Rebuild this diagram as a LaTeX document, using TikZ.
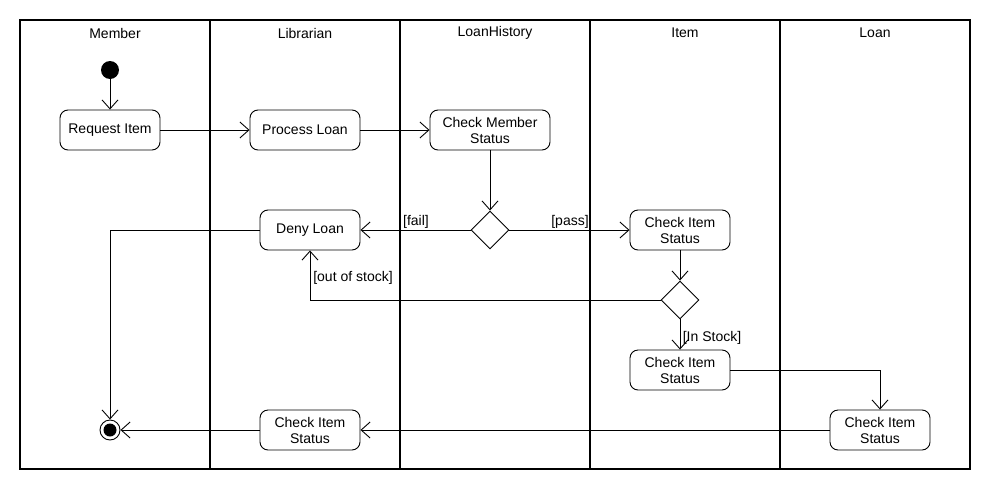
\documentclass[tikz,border=0pt]{standalone}
\usepackage{fontspec}
\setmainfont{Liberation Sans}
\usetikzlibrary{arrows.meta,shapes.geometric}
\begin{document}
\begin{tikzpicture}[x=1pt,y=-1pt,
  txt/.style={font=\fontsize{14}{16}\selectfont},
  act/.style={txt,draw,rounded corners=8pt,minimum width=100pt,minimum height=40pt,inner sep=0pt,align=center,line width=0.9pt},
  dec/.style={draw,diamond,minimum width=38pt,minimum height=38pt,inner sep=0pt,line width=0.9pt},
  flow/.style={line width=0.9pt,-{Straight Barb[length=9pt,width=16pt,line width=0.9pt]}},
  lane/.style={line width=2pt},
  frame/.style={line width=1.3pt}]
\useasboundingbox (0,0) rectangle (990,490);
\draw[frame] (20,20) rectangle (970,469);
\foreach \x in {210,400,590,780} \draw[lane] (\x,20) -- (\x,469);
\node[txt] (hmember) at (115,33) {Member};
\node[txt] (hlib) at (305,33) {Librarian};
\node[txt] (hhist) at (495,33) {LoanHistory};
\node[txt] (hitem) at (685,33) {Item};
\node[txt] (hloan) at (875,33) {Loan};

\node[circle,fill=black,minimum size=18pt,inner sep=0pt] (start) at (110,70) {};
\node[act] (req) at (110,130) {Request Item};
\node[act,minimum width=110pt] (proc) at (305,130) {Process Loan};
\node[act,minimum width=120pt] (cms) at (490,130) {Check Member\\Status};
\node[dec] (d1) at (490,230) {};
\node[act] (deny) at (310,230) {Deny Loan};
\node[act] (cis) at (680,230) {Check Item\\Status};
\node[dec] (d2) at (680,300) {};
\node[act] (cis2) at (680,370) {Check Item\\Status};
\node[act] (cisl) at (880,430) {Check Item\\Status};
\node[act] (cisb) at (310,430) {Check Item\\Status};
\node[circle,draw,line width=0.9pt,minimum size=20pt,inner sep=0pt] (final) at (110,430) {};
\node[circle,fill=black,minimum size=13pt,inner sep=0pt] (finalin) at (110,430) {};

\node[txt] (lfail) at (416,222) {[fail]};
\node[txt] (lpass) at (570,222) {[pass]};
\node[txt] (loos) at (353,278) {[out of stock]};
\node[txt] (lin) at (712,338) {[In Stock]};

\draw[flow] (start) -- (req);
\draw[flow] (req) -- (proc);
\draw[flow] (proc) -- (cms);
\draw[flow] (cms) -- (d1);
\draw[flow] (d1) -- (deny);
\draw[flow] (d1) -- (cis);
\draw[flow] (deny.west) -| (final.north);
\draw[flow] (cis) -- (d2);
\draw[flow] (d2.west) -| (deny.south);
\draw[flow] (d2) -- (cis2);
\draw[flow] (cis2.east) -| (cisl.north);
\draw[flow] (cisl) -- (cisb);
\draw[flow] (cisb) -- (final);
\end{tikzpicture}
\end{document}
